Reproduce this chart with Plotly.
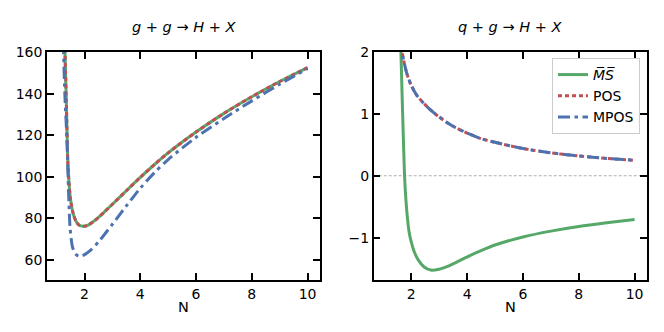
import plotly.graph_objects as go
from plotly.subplots import make_subplots

# g + g -> H + X  (left panel)
gg_n_ms = [1.25, 1.3, 1.35, 1.4, 1.45, 1.5, 1.6, 1.7, 1.8, 1.95, 2.1, 2.3, 2.5, 2.75, 3.0,
           3.5, 4.0, 4.5, 5.0, 6.0, 7.0, 8.0, 9.0, 10.0]
gg_ms = [195, 160, 135, 108, 96, 89, 82, 78.5, 76.8, 76.2, 76.6, 78.3, 80.5, 83.6, 86.8,
         93.3, 99.7, 105.8, 111.5, 121.5, 130.5, 138.5, 145.8, 152.5]
gg_pos = [195, 160, 135, 108, 96, 89, 82, 78.5, 76.8, 76.2, 76.6, 78.3, 80.5, 83.6, 86.8,
          93.3, 99.7, 105.8, 111.5, 121.5, 130.5, 138.5, 145.8, 152.5]
gg_n_mpos = [1.2, 1.25, 1.3, 1.37, 1.43, 1.48, 1.55, 1.6, 1.7, 1.8, 1.9, 2.0, 2.2, 2.5, 3.0,
             3.5, 4.0, 4.5, 5.0, 6.0, 7.0, 8.0, 9.0, 10.0]
gg_mpos = [200, 160, 138, 118, 92, 76, 67.5, 65, 62.6, 61.9, 62.0, 62.6, 64.5, 68.7, 77.2,
           86.0, 94.5, 101.9, 108.3, 119, 128, 136.5, 144.5, 152]

# q + g -> H + X  (right panel)
qg_n_ms = [1.58, 1.63, 1.67, 1.71, 1.76, 1.8, 1.85, 1.92, 2.0, 2.1, 2.25, 2.45, 2.7, 3.0,
           3.3, 3.7, 4.1, 4.5, 5.0, 6.0, 7.0, 8.0, 9.0, 10.0]
qg_ms = [2.8, 2.0, 1.35, 0.72, 0.0, -0.33, -0.62, -0.9, -1.07, -1.22, -1.36, -1.47, -1.525,
         -1.51, -1.465, -1.38, -1.29, -1.21, -1.12, -0.99, -0.895, -0.82, -0.76, -0.706]
qg_n_pos = [1.6, 1.67, 1.75, 1.85, 2.0, 2.2, 2.45, 2.7, 3.0, 3.5, 4.0, 4.5, 5.0, 6.0, 7.0,
            8.0, 9.0, 10.0]
qg_pos = [2.2, 2.0, 1.82, 1.64, 1.46, 1.3, 1.17, 1.06, 0.95, 0.8, 0.69, 0.6, 0.54, 0.44,
          0.37, 0.32, 0.28, 0.25]
qg_mpos = [2.2, 2.0, 1.82, 1.64, 1.46, 1.3, 1.17, 1.06, 0.95, 0.8, 0.69, 0.6, 0.54, 0.44,
           0.37, 0.32, 0.28, 0.25]

green = '#55A868'
red = '#C44E52'
blue = '#4C72B0'
font = 'DejaVu Sans'

# the page has an 8px body margin, so the figure is drawn 8px smaller
# and positions are given in window pixels
OFF = 8
W, H = 664 - OFF, 332 - OFF

def px(x):
    return (x - OFF) / W

def py(y):
    return 1 - (y - OFF) / H

fig = make_subplots(rows=1, cols=2)

def add_panel(col, n_ms, ms, n_pos, pos, n_mpos, mpos, legend):
    fig.add_trace(go.Scatter(x=n_ms, y=ms, mode='lines', name='<i>M̅S̅</i>',
                             line=dict(color=green, width=3, shape='spline', smoothing=0.8),
                             showlegend=legend), row=1, col=col)
    fig.add_trace(go.Scatter(x=n_pos, y=pos, mode='lines', name='POS',
                             line=dict(color=red, width=3, dash='4px,3px', shape='spline', smoothing=0.8),
                             showlegend=legend), row=1, col=col)
    fig.add_trace(go.Scatter(x=n_mpos, y=mpos, mode='lines', name='MPOS',
                             line=dict(color=blue, width=3, dash='12px,4.5px,3.5px,4.5px',
                                       shape='spline', smoothing=0.8),
                             showlegend=legend), row=1, col=col)

add_panel(1, gg_n_ms, gg_ms, gg_n_ms, gg_pos, gg_n_mpos, gg_mpos, False)
add_panel(2, qg_n_ms, qg_ms, qg_n_pos, qg_pos, qg_n_pos, qg_mpos, True)

fig.add_hline(y=0, line=dict(color='#b0b0b0', width=1, dash='3px,2px'), layer='below', row=1, col=2)

axis_style = dict(showline=True, mirror='ticks', linecolor='black', linewidth=1.5,
                  ticks='inside', ticklen=7, tickwidth=1.5, tickcolor='black',
                  showgrid=False, zeroline=False, automargin=False,
                  tickfont=dict(family=font, size=14, color='black'))

fig.update_xaxes(axis_style)
fig.update_yaxes(axis_style)
fig.update_xaxes(range=[0.655, 10.445], tickvals=[2, 4, 6, 8, 10])
fig.layout.xaxis.domain = [px(47), px(320)]
fig.layout.xaxis2.domain = [px(373.7), px(647)]
fig.update_yaxes(domain=[py(280), py(52)])
fig.update_yaxes(range=[50.4, 160], tickvals=[60, 80, 100, 120, 140, 160], row=1, col=1)
fig.update_yaxes(range=[-1.685, 2], tickvals=[-1, 0, 1, 2], row=1, col=2)

titles = ['<i>g</i> + <i>g</i> → <i>H</i> + <i>X</i>', '<i>q</i> + <i>g</i> → <i>H</i> + <i>X</i>']
centers = [(47 + 320) / 2, (373.7 + 647) / 2]
for t, c in zip(titles, centers):
    fig.add_annotation(text=t, x=px(c), y=py(27), xref='paper', yref='paper',
                       xanchor='center', yanchor='middle',
                       showarrow=False, font=dict(family=font, size=14.5, color='black'))
    fig.add_annotation(text='N', x=px(c), y=py(307), xref='paper', yref='paper',
                       xanchor='center', yanchor='middle',
                       showarrow=False, font=dict(family=font, size=14.5, color='black'))

fig.update_layout(
    width=W, height=H,
    margin=dict(l=0, r=0, t=0, b=0, autoexpand=False),
    paper_bgcolor='white', plot_bgcolor='white',
    font=dict(family=font, size=14, color='black'),
    legend=dict(x=px(640), y=py(58), xanchor='right', yanchor='top',
                bgcolor='rgba(255,255,255,0.8)', bordercolor='#cccccc', borderwidth=1,
                font=dict(family=font, size=14, color='black')),
)

fig.write_html("out.html")
